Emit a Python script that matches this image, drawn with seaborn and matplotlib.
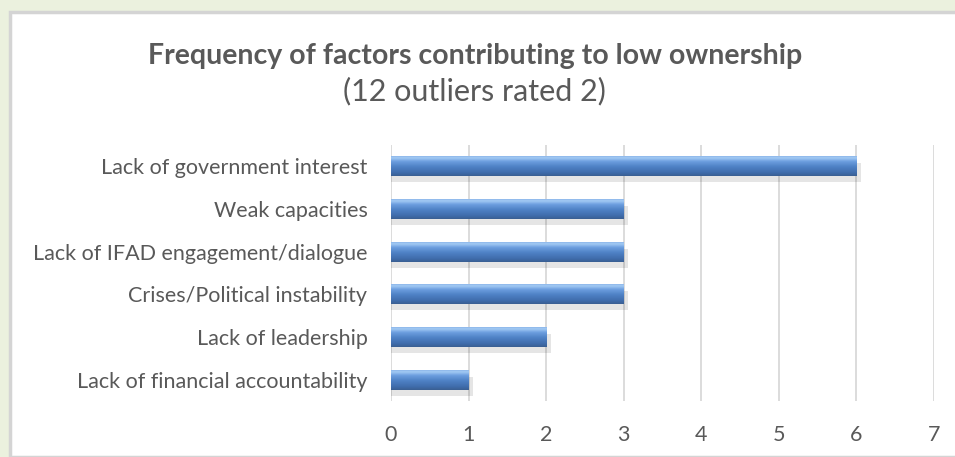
import matplotlib
matplotlib.use("Agg")
import matplotlib.pyplot as plt
import seaborn as sns
import numpy as np
import pandas as pd
from matplotlib.patches import Rectangle
from matplotlib.colors import LinearSegmentedColormap

categories = [
    "Lack of government interest",
    "Weak capacities",
    "Lack of IFAD engagement/dialogue",
    "Crises/Political instability",
    "Lack of leadership",
    "Lack of financial accountability",
]
counts = [6, 3, 3, 3, 2, 1]
x_ticks = [0, 1, 2, 3, 4, 5, 6, 7]

df = pd.DataFrame({"factor": categories, "count": counts})

sns.set_theme(style="white")
plt.rcParams["font.family"] = ["Lato", "DejaVu Sans"]

W, H = 955, 457
fig = plt.figure(figsize=(W / 100, H / 100), dpi=100)
fig.patch.set_facecolor("#EBF1DE")
bg = Rectangle((9.5 / W, 0), 1.0, 1 - 11.5 / H, transform=fig.transFigure,
               facecolor="white", edgecolor="#D4D4D4", linewidth=2.5, zorder=-5)
fig.patches.append(bg)

ax = fig.add_axes([391 / W, 1 - 401 / H, (934 - 391) / W, (401 - 145) / H])
ax.set_facecolor("none")
ax.set_zorder(2)

sns.barplot(data=df, y="factor", x="count", orient="h", color="#4A7EBB", width=0.47,
            ax=ax, zorder=3, edgecolor="none")

grad = np.linspace(0, 1, 64).reshape(-1, 1)
cmap = LinearSegmentedColormap.from_list(
    "bar", [(0.0, "#7DA9E3"), (0.12, "#A5CCF5"), (0.3, "#6C9EDF"), (0.55, "#4F82C6"),
            (0.85, "#3F6CAB"), (1.0, "#3A5F92")])
for p in list(ax.patches):
    x0, y0 = p.get_x(), p.get_y()
    w, h = p.get_width(), p.get_height()
    sh = Rectangle((x0, y0 + h * 0.35), w + 0.06, h * 0.95, facecolor="#000000", alpha=0.10,
                   edgecolor="none", zorder=2)
    ax.add_patch(sh)
    im = ax.imshow(grad, extent=(x0, x0 + w, y0 + h, y0), aspect="auto", cmap=cmap, zorder=4,
                   interpolation="bicubic")
    im.set_clip_path(p)

ax.set_xlim(0, 7)
ax.set_ylim(5.5, -0.5)
ax.set_xticks(x_ticks)
ax.set_xticklabels([str(t) for t in x_ticks])
ax.xaxis.grid(True, color="#D9D9D9", linewidth=1.3, zorder=0)
ax.yaxis.grid(False)
ax.set_axisbelow(True)
for s in ax.spines.values():
    s.set_visible(False)
ax.set_xlabel("")
ax.set_ylabel("")
ax.tick_params(axis="y", length=0, pad=17, labelsize=15.5, labelcolor="#595959")
ax.tick_params(axis="x", length=0, pad=17, labelsize=15.5, labelcolor="#595959")

fig.text(0.497, 1 - 56 / H, "Frequency of factors contributing to low ownership", ha="center", va="center",
         fontsize=20.5, fontweight="bold", color="#595959")
fig.text(0.497, 1 - 91 / H, "(12 outliers rated 2)", ha="center", va="center",
         fontsize=22, color="#595959")

fig.savefig("out.png", dpi=100, facecolor=fig.get_facecolor())
